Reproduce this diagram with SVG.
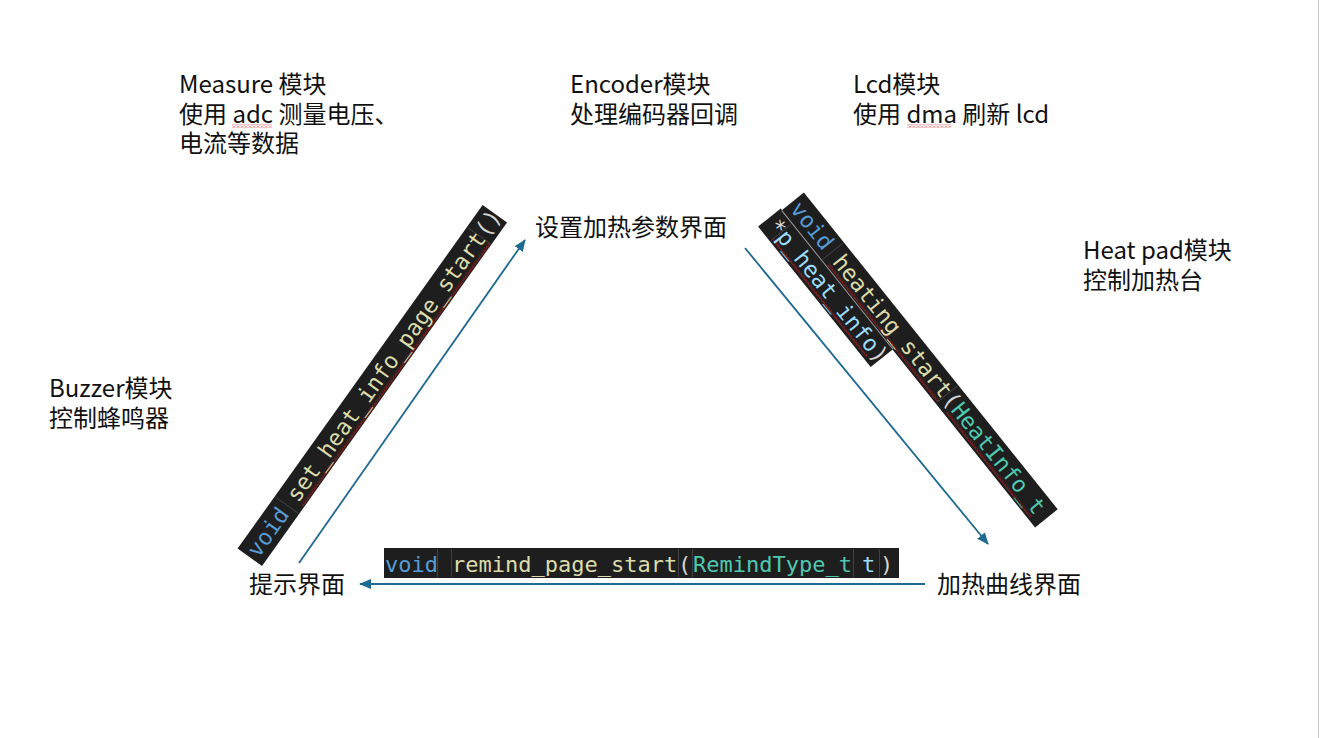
<svg xmlns="http://www.w3.org/2000/svg" width="1319" height="738" viewBox="0 0 1319 738">
<style>
.lbl{font-family:"Noto Sans CJK SC","Noto Sans",sans-serif;font-size:24px;fill:#111}
.code{font-family:"DejaVu Sans Mono","Liberation Mono",monospace;font-size:22.5px}
.hcode{font-family:"DejaVu Sans Mono","Liberation Mono",monospace;font-size:22px}
.bg{fill:#1E1E1E}
.kw{fill:#569CD6}
.fn{fill:#DCDCAA}
.ty{fill:#4EC9B0}
.pm{fill:#9CDCFE}
.pu{fill:#D4D4D4}
.sep{stroke:#4a4a4a;stroke-width:0.8}
.conn{stroke:#1F6A92;stroke-width:1.8;fill:none}
</style>
<defs>
<marker id="ah" markerWidth="12" markerHeight="10" refX="11" refY="5" orient="auto" markerUnits="userSpaceOnUse">
<path d="M0,0 L12,5 L0,10 z" fill="#1F6A92"/>
</marker>
<pattern id="wavy" width="4" height="3" patternUnits="userSpaceOnUse">
<path d="M0,2.5 L2,0.5 L4,2.5" stroke="#E02020" stroke-width="1" fill="none"/>
</pattern>
</defs>
<rect width="1319" height="738" fill="#ffffff"/>
<line x1="1318.5" y1="0" x2="1318.5" y2="738" stroke="#c4c4c4" stroke-width="1"/>

<g id="measure">
<text class="lbl" x="179" y="93">Measure 模块</text>
<text class="lbl" x="179" y="123">使用 adc 测量电压、</text>
<text class="lbl" x="179" y="152">电流等数据</text>
<rect x="232" y="124.5" width="40" height="3" fill="url(#wavy)"/>
</g>
<g id="encoder">
<text class="lbl" x="570" y="93">Encoder模块</text>
<text class="lbl" x="570" y="123">处理编码器回调</text>
</g>
<g id="lcd">
<text class="lbl" x="853" y="93">Lcd模块</text>
<text class="lbl" x="853" y="123">使用 dma 刷新 lcd</text>
<rect x="907" y="124.5" width="44" height="3" fill="url(#wavy)"/>
</g>
<g id="heatpad">
<text class="lbl" x="1083" y="259">Heat pad模块</text>
<text class="lbl" x="1083" y="289">控制加热台</text>
</g>
<g id="buzzer">
<text class="lbl" x="49" y="397">Buzzer模块</text>
<text class="lbl" x="49" y="427">控制蜂鸣器</text>
</g>

<g id="set-page"><text class="lbl" x="535" y="236">设置加热参数界面</text></g>
<g id="remind-page"><text class="lbl" x="249" y="593">提示界面</text></g>
<g id="curve-page"><text class="lbl" x="937" y="593">加热曲线界面</text></g>

<g id="connectors">
<line class="conn" x1="299" y1="563" x2="525" y2="240" marker-end="url(#ah)"/>
<line class="conn" x1="745" y1="248" x2="988" y2="544" marker-end="url(#ah)"/>
<line class="conn" x1="925" y1="584" x2="360" y2="584" marker-end="url(#ah)"/>
</g>

<g id="code-set" transform="translate(262,566) rotate(-54.5)">
<rect class="bg" x="0" y="-30" width="422" height="30"/>
<line class="sep" x1="64" y1="-29" x2="64" y2="-1"/>
<line class="sep" x1="395" y1="-29" x2="395" y2="-1"/>
<rect x="72" y="-4" width="323" height="3" fill="url(#wavy)"/>
<text class="code" x="4" y="-7"><tspan class="kw">void</tspan><tspan class="fn"> set_heat_info_page_start</tspan><tspan class="pu">()</tspan></text>
</g>

<g id="code-heating" transform="translate(782,210) rotate(51.3)">
<rect class="bg" x="0" y="-28" width="406" height="29"/>
<rect class="bg" x="-2" y="0" width="180" height="29"/>
<line x1="0" y1="0.5" x2="178" y2="0.5" stroke="#9a9a9a" stroke-width="1"/>
<line class="sep" x1="64" y1="-27" x2="64" y2="-1"/>
<line class="sep" x1="247" y1="-27" x2="247" y2="-1"/>
<line class="sep" x1="17" y1="2" x2="17" y2="28"/>
<rect x="71" y="-4" width="176" height="3" fill="url(#wavy)"/>
<rect x="260" y="-4" width="135" height="3" fill="url(#wavy)"/>
<rect x="18" y="24" width="150" height="3" fill="url(#wavy)"/>
<text class="code" x="4" y="-6"><tspan class="kw">void</tspan><tspan class="fn"> heating_start</tspan><tspan class="pu">(</tspan><tspan class="ty">HeatInfo_t</tspan></text>
<text class="code" x="4" y="22"><tspan class="pu">*</tspan><tspan class="pm">p_heat_info</tspan><tspan class="pu">)</tspan></text>
</g>

<g id="code-remind">
<rect class="bg" x="384" y="548" width="515" height="30"/>
<line class="sep" x1="437.5" y1="549" x2="437.5" y2="577"/>
<line class="sep" x1="451.5" y1="549" x2="451.5" y2="577"/>
<line class="sep" x1="678.5" y1="549" x2="678.5" y2="577"/>
<line class="sep" x1="692.5" y1="549" x2="692.5" y2="577"/>
<line class="sep" x1="853.5" y1="549" x2="853.5" y2="577"/>
<line class="sep" x1="879.5" y1="549" x2="879.5" y2="577"/>
<text class="hcode" y="572"><tspan class="kw" x="385">void</tspan><tspan class="fn" x="452">remind_page_start</tspan><tspan class="pu" x="678">(</tspan><tspan class="ty" x="693">RemindType_t</tspan><tspan class="pm" x="862">t</tspan><tspan class="pu" x="880">)</tspan></text>
</g>
</svg>
